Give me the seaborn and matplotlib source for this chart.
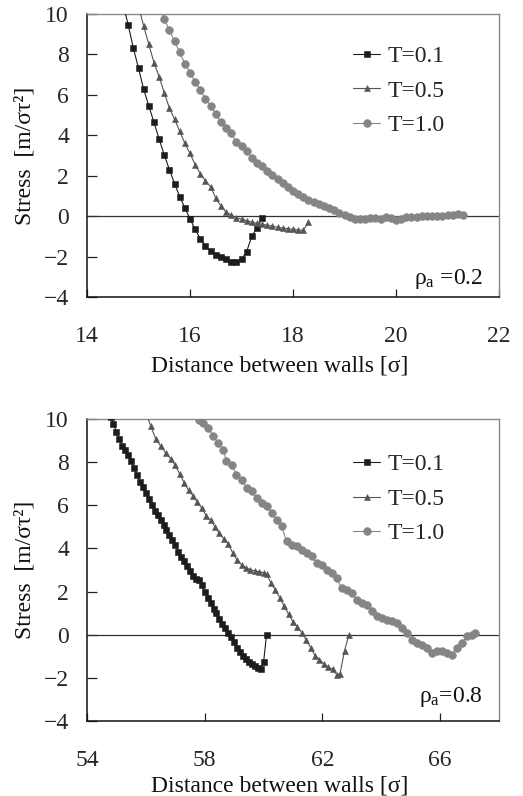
import matplotlib
matplotlib.use("Agg")
import matplotlib.pyplot as plt
import seaborn as sns
import pandas as pd

sns.set_style("ticks")
plt.rcParams['font.family'] = ['Liberation Serif', 'DejaVu Serif']
plt.rcParams['mathtext.fontset'] = 'custom'
plt.rcParams['mathtext.rm'] = 'Liberation Serif'
plt.rcParams['mathtext.it'] = 'Liberation Serif:italic'

# ---------------- data: rho_a = 0.2 ----------------
top_t01_x = [14.7, 14.8, 14.9, 15.0, 15.1, 15.2, 15.3, 15.4, 15.5, 15.6, 15.7, 15.8, 15.9, 16.0,
             16.1, 16.2, 16.3, 16.4, 16.5, 16.6, 16.7, 16.8, 16.9, 17.0, 17.1, 17.2, 17.3, 17.4]
top_t01_y = [10.5, 9.46, 8.31, 7.32, 6.28, 5.46, 4.64, 3.82, 3.03, 2.30, 1.61, 0.97, 0.41, -0.13,
             -0.66, -1.12, -1.48, -1.73, -1.94, -2.0, -2.1, -2.25, -2.25, -2.14, -1.76, -0.99, -0.59, -0.07]

top_t05_x = [15.0, 15.1, 15.2, 15.3, 15.4, 15.5, 15.6, 15.7, 15.8, 15.9, 16.0, 16.1, 16.2, 16.3,
             16.4, 16.5, 16.6, 16.7, 16.8, 16.9, 17.0, 17.1, 17.2, 17.3, 17.4, 17.5, 17.6, 17.7,
             17.8, 17.9, 18.0, 18.1, 18.2, 18.3]
top_t05_y = [10.4, 9.4, 8.5, 7.6, 6.9, 6.1, 5.35, 4.8, 4.2, 3.6, 3.1, 2.55, 2.1, 1.75,
             1.45, 0.9, 0.5, 0.2, 0.05, -0.08, -0.15, -0.22, -0.3, -0.36, -0.4, -0.45, -0.5, -0.55,
             -0.6, -0.62, -0.65, -0.68, -0.7, -0.3]

top_t10_x = [15.4, 15.5, 15.6, 15.7, 15.8, 15.9, 16.0, 16.1, 16.2, 16.3, 16.4, 16.5, 16.6, 16.7,
             16.8, 16.9, 17.0, 17.1, 17.2, 17.3, 17.4, 17.5, 17.6, 17.7, 17.8, 17.9, 18.0, 18.1,
             18.2, 18.3, 18.4, 18.5, 18.6, 18.7, 18.8, 18.9, 19.0, 19.1, 19.2, 19.3, 19.4, 19.5,
             19.6, 19.7, 19.8, 19.9, 20.0, 20.1, 20.2, 20.3, 20.4, 20.5, 20.6, 20.7, 20.8, 20.9,
             21.0, 21.1, 21.2, 21.3]
top_t10_y = [10.35, 9.75, 9.2, 8.65, 8.1, 7.55, 7.1, 6.65, 6.25, 5.8, 5.45, 5.05, 4.65, 4.35,
             4.1, 3.65, 3.45, 3.2, 2.9, 2.65, 2.5, 2.25, 2.05, 1.85, 1.65, 1.45, 1.25, 1.1,
             0.95, 0.8, 0.68, 0.58, 0.5, 0.42, 0.3, 0.18, 0.05, -0.05, -0.12, -0.15, -0.15, -0.1,
             -0.1, -0.12, -0.05, -0.08, -0.2, -0.15, -0.05, -0.03, -0.02, 0.0, 0.02, 0.0, 0.02, 0.03,
             0.04, 0.05, 0.12, 0.08]

# ---------------- data: rho_a = 0.8 ----------------
bot_t01_x = [54.8, 54.9, 55.0, 55.1, 55.2, 55.3, 55.4, 55.5, 55.6, 55.7, 55.8, 55.9, 56.0, 56.1,
             56.2, 56.3, 56.4, 56.5, 56.6, 56.7, 56.8, 56.9, 57.0, 57.1, 57.2, 57.3, 57.4, 57.5,
             57.6, 57.7, 57.8, 57.9, 58.0, 58.1, 58.2, 58.3, 58.4, 58.5, 58.6, 58.7, 58.8, 58.9,
             59.0, 59.1, 59.2, 59.3, 59.4, 59.5, 59.6, 59.7, 59.8, 59.9, 60.0, 60.1]
bot_t01_y = [10.1, 9.78, 9.4, 9.05, 8.75, 8.55, 8.35, 8.05, 7.75, 7.4, 7.1, 6.85, 6.55, 6.3,
             6.0, 5.75, 5.55, 5.3, 5.1, 4.85, 4.6, 4.4, 4.15, 3.85, 3.6, 3.4, 3.2, 2.95,
             2.7, 2.6, 2.55, 2.3, 2.0, 1.7, 1.45, 1.2, 1.0, 0.75, 0.5, 0.3, 0.1, -0.1,
             -0.35, -0.6, -0.8, -0.98, -1.12, -1.25, -1.35, -1.45, -1.52, -1.58, -1.28, 0.0]

bot_t05_x = [56.0, 56.16, 56.34, 56.51, 56.68, 56.85, 57.0, 57.15, 57.3, 57.45, 57.6, 57.75, 57.9,
             58.05, 58.2, 58.35, 58.5, 58.65, 58.8, 58.95, 59.1, 59.25, 59.4, 59.55, 59.7, 59.85,
             60.0, 60.1, 60.25, 60.4, 60.55, 60.7, 60.85, 61.0, 61.15, 61.3, 61.45, 61.6, 61.75,
             61.9, 62.05, 62.2, 62.35, 62.5, 62.6, 62.75, 62.9]
bot_t05_y = [10.3, 9.69, 9.07, 8.73, 8.42, 8.15, 7.85, 7.45, 7.05, 6.7, 6.45, 6.15, 5.87,
             5.52, 5.3, 5.0, 4.7, 4.45, 4.2, 3.8, 3.45, 3.25, 3.1, 3.02, 2.96, 2.92,
             2.88, 2.82, 2.4, 2.07, 1.72, 1.32, 0.95, 0.6, 0.35, 0.1, -0.25, -0.6, -0.97,
             -1.15, -1.35, -1.5, -1.6, -1.88, -1.8, -0.75, 0.0]

bot_t10_x = [57.7, 57.82, 57.95, 58.12, 58.29, 58.46, 58.63, 58.74, 58.92, 59.08, 59.25, 59.42,
             59.59, 59.76, 59.93, 60.10, 60.27, 60.44, 60.61, 60.78, 60.95, 61.12, 61.29, 61.46,
             61.63, 61.80, 61.97, 62.14, 62.31, 62.48, 62.65, 62.82, 62.99, 63.16, 63.33, 63.50,
             63.67, 63.84, 64.01, 64.18, 64.35, 64.52, 64.69, 64.86, 65.03, 65.20, 65.37, 65.54,
             65.71, 65.88, 66.05, 66.22, 66.39, 66.56, 66.73, 66.90, 67.07, 67.18]
bot_t10_y = [10.2, 9.94, 9.81, 9.58, 9.20, 8.89, 8.58, 8.04, 7.88, 7.42, 7.19, 6.80,
             6.65, 6.34, 6.11, 5.95, 5.64, 5.33, 5.05, 4.33, 4.17, 4.10, 3.94, 3.79,
             3.63, 3.32, 3.25, 3.01, 2.86, 2.63, 2.16, 2.09, 1.93, 1.62, 1.47, 1.39,
             1.08, 0.85, 0.77, 0.70, 0.62, 0.54, 0.31, 0.08, -0.23, -0.39, -0.46, -0.62,
             -0.85, -0.77, -0.77, -0.85, -0.93, -0.62, -0.39, -0.08, 0.0, 0.08]

labels = ["T=0.1", "T=0.5", "T=1.0"]
colors = ["#1c1c1c", "#555555", "#858585"]
markers = ["s", "^", "o"]
msizes = [3.8, 4.6, 5.6]

top_xticks = [14, 16, 18, 20, 22]
bot_xticks = [54, 58, 62, 66]
yticks = [-4, -2, 0, 2, 4, 6, 8, 10]

W, H = 523, 796
fig = plt.figure(figsize=(W / 100, H / 100), dpi=100)
ax1 = fig.add_axes([87 / W, 1 - 297 / H, 412 / W, 283 / H])
ax2 = fig.add_axes([87 / W, 1 - 721 / H, 412 / W, 302 / H])

panels = [
    (ax1, [(top_t01_x, top_t01_y), (top_t05_x, top_t05_y), (top_t10_x, top_t10_y)],
     (14, 22), top_xticks, "ρ$_{\\mathrm{a}}$ =0.2", 0.064, -0.205, 0.888),
    (ax2, [(bot_t01_x, bot_t01_y), (bot_t05_x, bot_t05_y), (bot_t10_x, bot_t10_y)],
     (54, 68), bot_xticks, "ρ$_{\\mathrm{a}}$=0.8", 0.079, -0.18, 0.885),
]

for ax, series, xlim, xt, ann, ann_y, xlab_y, leg_y in panels:
    ax.axhline(0, color="#333333", lw=0.9, zorder=1)
    handles = []
    for (xs, ys), lab, c, m, ms in zip(series, labels, colors, markers, msizes):
        df = pd.DataFrame({"x": xs, "y": ys})
        sns.lineplot(data=df, x="x", y="y", ax=ax, color=c, marker=m, markersize=ms,
                     markeredgecolor=c, markeredgewidth=0.4, linewidth=0.8,
                     estimator=None, sort=False, zorder=3)
        handles.append(ax.lines[-1])
    ax.set_xlim(*xlim)
    ax.set_ylim(-4, 10)
    ax.set_xticks(xt)
    ax.set_yticks(yticks)
    ax.tick_params(axis="x", direction="in", length=6, width=0.9, pad=21, labelsize=17, color="#222222")
    ax.tick_params(axis="y", direction="in", length=7, width=0.9, pad=13, labelsize=17, color="#222222")
    for s in ["left", "bottom"]:
        ax.spines[s].set_color("#111111")
        ax.spines[s].set_linewidth(1.1)
    for s in ["top", "right"]:
        ax.spines[s].set_visible(True)
        ax.spines[s].set_color("#8a8a8a")
        ax.spines[s].set_linewidth(1.0)
    ax.set_xlabel("Distance between walls [σ]", fontsize=17, color="#111111")
    ax.xaxis.set_label_coords(0.468, xlab_y)
    ax.set_ylabel("Stress  [m/στ²]", fontsize=17, color="#111111")
    ax.yaxis.set_label_coords(-0.125, 0.5)
    ax.legend(handles, labels, loc="upper left", bbox_to_anchor=(0.646, leg_y),
              frameon=False, handlelength=1.15, handletextpad=0.3, labelspacing=0.55,
              borderpad=0, borderaxespad=0, fontsize=17)
    ax.text(0.961, ann_y, ann, transform=ax.transAxes, ha="right", va="center",
            fontsize=17, color="#111111")

fig.savefig("out.png", dpi=100)
